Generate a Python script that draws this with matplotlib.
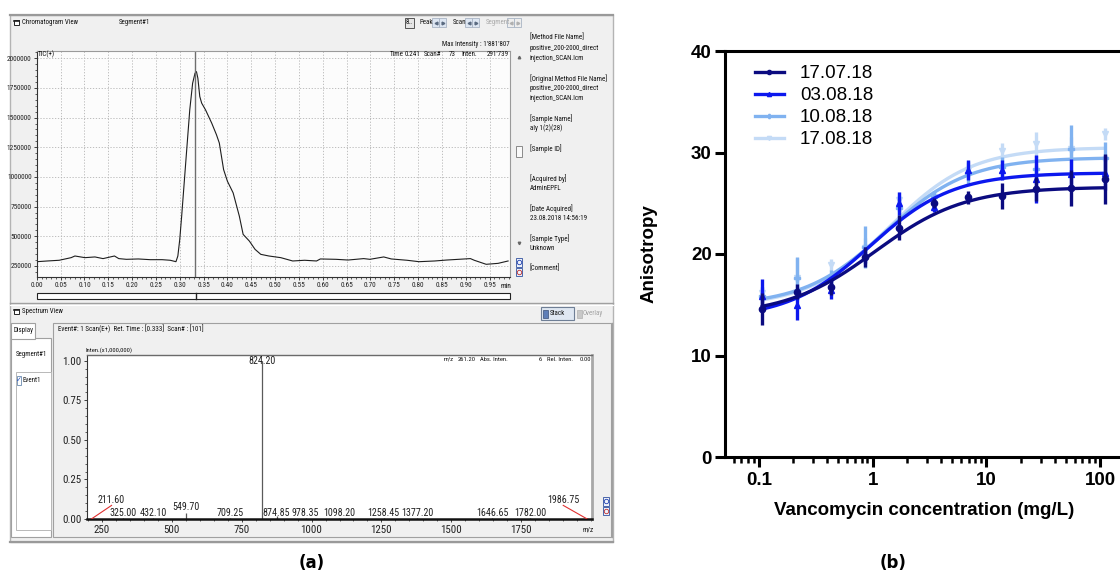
import numpy as np
import matplotlib
matplotlib.use("Agg")
import matplotlib.pyplot as plt
from matplotlib import font_manager
from matplotlib.patches import Rectangle
from matplotlib.lines import Line2D
from matplotlib.ticker import MultipleLocator, LogLocator, NullFormatter


def _find(fam, stretch='normal'):
    try:
        return font_manager.findfont(font_manager.FontProperties(family=fam, stretch=stretch),
                                     fallback_to_default=False)
    except Exception:
        return None


ARIAL = 'Liberation Sans' if _find('Liberation Sans') else 'DejaVu Sans'
UI = {'family': ARIAL}
UI_SCALE = 1.0
for _fam in ['Liberation Sans Narrow', 'Roboto Condensed', 'Open Sans Condensed', 'Arial Narrow']:
    if _find(_fam):
        UI = {'family': _fam}
        UI_SCALE = 1.2
        break
else:
    for _fam in ['DejaVu Sans', 'Roboto', 'Open Sans', 'Noto Sans']:
        _p = _find(_fam, 'condensed')
        if _p and 'ondensed' in _p:
            UI = {'family': _fam, 'stretch': 'condensed'}
            UI_SCALE = 1.15
            break

# ---------------- data: (a) chromatogram (TIC) ----------------
tic_time = [0.000, 0.022, 0.047, 0.072, 0.080, 0.101, 0.122, 0.139, 0.163, 0.172, 0.188, 0.213,
            0.238, 0.263, 0.280, 0.292, 0.296, 0.300, 0.304, 0.313, 0.321, 0.327, 0.332, 0.335,
            0.338, 0.342, 0.346, 0.354, 0.367, 0.377, 0.383, 0.392, 0.400, 0.412, 0.425, 0.433,
            0.446, 0.458, 0.470, 0.487, 0.512, 0.537, 0.562, 0.587, 0.595, 0.628, 0.653, 0.686,
            0.699, 0.728, 0.744, 0.777, 0.802, 0.835, 0.860, 0.885, 0.910, 0.918, 0.943, 0.968, 0.989]
tic_intensity = [286000, 292000, 298000, 320000, 334000, 320000, 326000, 312000, 334000, 312000,
                 306000, 309000, 303000, 303000, 298000, 286000, 334000, 474000, 670000, 1146000,
                 1566000, 1790000, 1874000, 1888000, 1832000, 1678000, 1622000, 1566000, 1454000,
                 1356000, 1286000, 1062000, 964000, 866000, 670000, 516000, 460000, 390000, 348000,
                 334000, 320000, 292000, 298000, 292000, 309000, 306000, 300000, 312000, 306000,
                 326000, 309000, 298000, 286000, 292000, 300000, 306000, 312000, 298000, 264000,
                 272000, 292000]
cursor_time = 0.333
chrom_xticks = [0.00, 0.05, 0.10, 0.15, 0.20, 0.25, 0.30, 0.35, 0.40, 0.45, 0.50,
                0.55, 0.60, 0.65, 0.70, 0.75, 0.80, 0.85, 0.90, 0.95]
chrom_yticks = [250000, 500000, 750000, 1000000, 1250000, 1500000, 1750000, 2000000]

info_lines = ["[Method File Name]", "positive_200-2000_direct", "injection_SCAN.lcm",
              "[Original Method File Name]", "positive_200-2000_direct", "injection_SCAN.lcm",
              "[Sample Name]", "aly 1(2)(28)", "[Sample ID]", "[Acquired by]", "AdminEPFL",
              "[Date Acquired]", "23.08.2018 14:56:19", "[Sample Type]", "Unknown", "[Comment]"]

# ---------------- data: (a) mass spectrum ----------------
peak_mz = [211.60, 325.00, 432.10, 549.70, 709.25, 824.20, 874.85, 978.35, 1098.20,
           1258.45, 1377.20, 1646.65, 1782.00, 1986.75]
peak_intensity = [0.006, 0.008, 0.008, 0.035, 0.008, 1.00, 0.02, 0.008, 0.008,
                  0.008, 0.008, 0.008, 0.008, 0.004]
spec_xticks = [250, 500, 750, 1000, 1250, 1500, 1750]
spec_yticks = [0.00, 0.25, 0.50, 0.75, 1.00]

# ---------------- data: (b) anisotropy vs vancomycin ----------------
conc = [0.107, 0.215, 0.43, 0.86, 1.72, 3.44, 6.88, 13.75, 27.5, 55.0, 110.0]
labels_b = ['17.07.18', '03.08.18', '10.08.18', '17.08.18']
aniso_170718 = [14.6, 16.3, 16.7, 19.7, 22.6, 25.0, 25.6, 25.7, 26.4, 26.5, 27.4]
err_170718 = [1.6, 0.7, 0.7, 1.0, 1.25, 0.5, 0.65, 1.3, 1.2, 1.8, 2.5]
aniso_030818 = [15.9, 15.0, 16.5, 19.9, 25.0, 24.6, 28.3, 28.3, 27.4, 27.9, 28.0]
err_030818 = [1.6, 1.5, 0.9, 0.8, 1.15, 0.5, 1.0, 1.0, 2.4, 1.5, 1.7]
aniso_100818 = [15.9, 17.6, 17.6, 20.7, 24.5, 25.6, 28.0, 28.6, 28.4, 30.3, 29.5]
err_100818 = [0.8, 2.1, 0.8, 2.1, 1.2, 0.6, 1.2, 1.0, 1.3, 2.4, 1.5]
aniso_170818 = [16.2, 17.6, 18.9, 20.6, 25.3, 25.6, 28.3, 30.1, 30.8, 30.3, 31.8]
err_170818 = [0.5, 2.0, 0.6, 1.0, 0.8, 0.6, 0.7, 0.8, 1.2, 1.2, 0.6]
# 4-parameter logistic fit parameters (bottom, top, EC50, hill)
fit_170718 = (13.9, 26.6, 1.05, 1.1)
fit_030818 = (13.6, 28.0, 0.95, 1.2)
fit_100818 = (14.9, 29.5, 1.30, 1.2)
fit_170818 = (14.8, 30.5, 1.40, 1.2)
b_yticks = [0, 10, 20, 30, 40]
b_xticks = [0.1, 1, 10, 100]
b_xticklabels = ['0.1', '1', '10', '100']

# ---------------- figure ----------------
W, H = 1120, 574
fig = plt.figure(figsize=(W / 100, H / 100), dpi=100)
fig.patch.set_facecolor('white')


def frect(x0, y0, x1, y1):
    return [x0 / W, 1 - y1 / H, (x1 - x0) / W, (y1 - y0) / H]


bg = fig.add_axes([0, 0, 1, 1], zorder=0)
fg = fig.add_axes([0, 0, 1, 1], zorder=20)
for a in (bg, fg):
    a.set_xlim(0, W)
    a.set_ylim(H, 0)
    a.axis('off')
fg.patch.set_alpha(0)

S = 4.1  # base UI font size


def box(ax, x0, y0, x1, y1, fc='none', ec='#a0a0a0', lw=0.8, z=1):
    ax.add_patch(Rectangle((x0, y0), x1 - x0, y1 - y0, facecolor=fc, edgecolor=ec, lw=lw, zorder=z))


def txt(ax, x, y, s, size=S, color='#111111', ha='left', va='center', **kw):
    ax.text(x, y, s, fontsize=size * UI_SCALE, color=color, ha=ha, va=va, **UI, **kw)


def ui_ticklabels(ax, size):
    for lab in ax.get_xticklabels() + ax.get_yticklabels():
        lab.set_family(UI['family'])
        if 'stretch' in UI:
            lab.set_stretch(UI['stretch'])
        lab.set_fontsize(size * UI_SCALE)


# window
box(bg, 10, 15, 613, 542, fc='#f0f0f0', ec='#b4b4b4', lw=1.0)
bg.plot([10, 613], [15, 15], color='#9a9a9a', lw=1.6)
bg.plot([10, 613], [542, 542], color='#9a9a9a', lw=1.6)

# chromatogram header
box(fg, 14, 19.5, 19, 25, fc='white', ec='#222222', lw=0.7)
fg.plot([14, 19], [21, 21], color='#222222', lw=1.2)
txt(fg, 22, 22.5, 'Chromatogram View')
txt(fg, 119, 22.5, 'Segment#1')
box(fg, 405, 17.5, 414, 28, fc='#e6e6e6', ec='#555555', lw=0.7)
txt(fg, 409.5, 23, '8..', ha='center')


def arrows(x0, grey=False):
    c = '#b0b0b0' if grey else '#5a6a80'
    fcol = '#eeeeee' if grey else '#dde6f2'
    box(fg, x0, 18, x0 + 7, 27, fc=fcol, ec='#a8b4c4', lw=0.6)
    box(fg, x0 + 7, 18, x0 + 14, 27, fc=fcol, ec='#a8b4c4', lw=0.6)
    fg.plot([x0 + 3.5], [22.5], marker='<', ms=2, color=c, ls='none')
    fg.plot([x0 + 10.5], [22.5], marker='>', ms=2, color=c, ls='none')


txt(fg, 419, 22.5, 'Peak')
arrows(432)
txt(fg, 453, 22.5, 'Scan')
arrows(465)
txt(fg, 486, 22.5, 'Segment', color='#a8a8a8')
arrows(507, grey=True)

txt(fg, 510, 44, "Max Intensity : 1'881'807", ha='right')

# chromatogram axes
ax1 = fig.add_axes(frect(36.8, 50.7, 510, 277), zorder=5)
ax1.set_facecolor('#fcfcfc')
ax1.plot(tic_time, tic_intensity, color='#1e1e1e', lw=0.8)
ax1.axvline(cursor_time, color='#6e6e6e', lw=1.0)
ax1.set_xlim(0, 0.993)
ax1.set_ylim(157000, 2064000)
ax1.set_xticks(chrom_xticks, labels=[f'{t:.2f}' for t in chrom_xticks])
ax1.set_yticks(chrom_yticks, labels=[str(v) for v in chrom_yticks])
ax1.xaxis.set_minor_locator(MultipleLocator(0.01))
ax1.yaxis.set_minor_locator(MultipleLocator(50000))
ax1.grid(True, which='major', ls=(0, (1.5, 2)), color='#b4b4b4', lw=0.6)
ax1.tick_params(which='major', length=2.5, width=0.6, pad=1.2, colors='#222222')
ax1.tick_params(which='minor', length=1.5, width=0.5, colors='#222222')
ui_ticklabels(ax1, 4.4)
for s in ('left', 'bottom'):
    ax1.spines[s].set_color('#333333')
    ax1.spines[s].set_linewidth(0.8)
for s in ('top', 'right'):
    ax1.spines[s].set_color('#9a9a9a')
    ax1.spines[s].set_linewidth(0.8)
txt(fg, 506, 286.2, 'min', size=4.4, ha='center')
txt(fg, 38, 54.5, 'TIC(+)', size=4.2)
txt(fg, 389.5, 54.5, 'Time', size=4.2)
txt(fg, 405, 54.5, '0.241', size=4.2)
txt(fg, 424, 54.5, 'Scan#', size=4.2)
txt(fg, 449, 54.5, '73', size=4.2)
txt(fg, 461, 54.5, 'Inten.', size=4.2)
txt(fg, 509, 54.5, "291'739", size=4.2, ha='right')

# bar below chromatogram
box(fg, 36.8, 293, 510, 299, fc='white', ec='#222222', lw=0.8)
fg.plot([195.7, 195.7], [293, 299], color='#222222', lw=1.0)

# scrollbar + zoom icons
fg.plot([519], [57], marker='^', ms=1.8, color='#666666', ls='none')
box(fg, 516, 146, 522, 157, fc='#fafafa', ec='#8a8a8a', lw=0.7)
fg.plot([519], [243], marker='v', ms=1.8, color='#666666', ls='none')


def zoom_icons(x, y):
    box(fg, x - 3, y, x + 3, y + 8.5, fc='#eef2fa', ec='#3050a0', lw=0.6)
    box(fg, x - 3, y + 9.5, x + 3, y + 18, fc='#eef2fa', ec='#3050a0', lw=0.6)
    fg.plot([x], [y + 4.2], marker='o', ms=3.2, mfc='none', mec='#2040b0', mew=0.6, ls='none')
    fg.plot([x], [y + 13.8], marker='o', ms=3.2, mfc='none', mec='#c03030', mew=0.6, ls='none')


zoom_icons(519, 258)

info_y = [37.7, 48.3, 58.3, 78.3, 88.3, 98.3, 118.3, 128.3, 148.3, 178.3, 188.3, 208.3, 218.3,
          238.3, 248.3, 268.3]
for s, yy in zip(info_lines, info_y):
    txt(fg, 530, yy, s, size=4.2)

# separator between views
bg.plot([10, 613], [303, 303], color='#a0a0a0', lw=1.0)
bg.plot([10, 613], [304.5, 304.5], color='white', lw=0.8)

# spectrum header
box(fg, 14, 308.5, 19, 314, fc='white', ec='#222222', lw=0.7)
fg.plot([14, 19], [310, 310], color='#222222', lw=1.2)
txt(fg, 22, 311.5, 'Spectrum View')
box(fg, 541, 307, 574, 320, fc='#dfe7f2', ec='#6f7f96', lw=0.8)
box(fg, 543, 309.5, 548, 317.5, fc='#5f7fb8', ec='#3a4f78', lw=0.5)
txt(fg, 549.5, 313.5, 'Stack')
box(fg, 577, 309.5, 582, 317.5, fc='#c8c8c8', ec='#b0b0b0', lw=0.5)
txt(fg, 583, 313.5, 'Overlay', color='#a0a0a0')

# spectrum panel
box(bg, 53, 323, 611, 537, fc='#f0f0f0', ec='#a0a0a0', lw=0.8)
box(bg, 11, 338, 51, 537, fc='white', ec='#a0a0a0', lw=0.8)
box(bg, 11, 323, 35, 338.5, fc='white', ec='#a0a0a0', lw=0.8)
box(bg, 15.5, 372, 51, 530, fc='white', ec='#b8b8b8', lw=0.7)
txt(fg, 13, 331, 'Display')
txt(fg, 16, 354.5, 'Segment#1')
box(fg, 16.5, 376, 21, 384.5, fc='white', ec='#6a8ab0', lw=0.6)
fg.text(18.8, 380, '\u2713', fontsize=5, color='#2050c0', ha='center', va='center', family='DejaVu Sans')
txt(fg, 22.5, 380, 'Event1')
txt(fg, 58.5, 329.5, 'Event#: 1 Scan(E+)  Ret. Time : [0.333]  Scan# : [101]', size=4.2)
txt(fg, 85, 350, 'Inten.(x1,000,000)', size=3.9)

# spectrum axes
ax2 = fig.add_axes(frect(87, 355, 592, 519), zorder=5)
ax2.set_facecolor('white')
ax2.vlines(peak_mz, 0, peak_intensity, color='#5a5a5a', lw=0.9)
ax2.set_xlim(196, 2004)
ax2.set_ylim(0, 1.036)
ax2.set_xticks(spec_xticks, labels=[str(v) for v in spec_xticks])
ax2.set_yticks(spec_yticks, labels=[f'{v:.2f}' for v in spec_yticks])
ax2.xaxis.set_minor_locator(MultipleLocator(50))
ax2.yaxis.set_minor_locator(MultipleLocator(0.05))
ax2.tick_params(which='major', length=2.5, width=0.6, pad=1.5, colors='#222222')
ax2.tick_params(which='minor', length=1.5, width=0.5, colors='#222222')
ui_ticklabels(ax2, 6.6)
ax2.spines['left'].set_color('#333333')
ax2.spines['left'].set_linewidth(0.8)
ax2.spines['bottom'].set_color('#111111')
ax2.spines['bottom'].set_linewidth(1.8)
ax2.spines['top'].set_color('#6a6a6a')
ax2.spines['top'].set_linewidth(1.0)
ax2.spines['right'].set_color('#a8a8a8')
ax2.spines['right'].set_linewidth(2.0)

# peak labels: (text x, text bottom y) in data units; callouts get a red leader line
label_layout = {211.60: (284, 0.086), 549.70: (549.70, 0.045), 824.20: (824.20, 0.965),
                1986.75: (1901, 0.086)}
for mz, inten in zip(peak_mz, peak_intensity):
    lx, ly = label_layout.get(mz, (mz, 0.006))
    ax2.text(lx, ly, f'{mz:.2f}', fontsize=6.0 * UI_SCALE, color='#222222',
             ha='center', va='bottom', zorder=6, **UI)
    if lx != mz:
        ax2.plot([mz, lx], [0, ly], color='#e03030', lw=0.8, zorder=6)
txt(fg, 588, 530, 'm/z', size=4.3, ha='center')
txt(fg, 443.6, 359.3, 'm/z', size=3.9)
txt(fg, 458, 359.3, '261.20', size=3.9)
txt(fg, 480, 359.3, 'Abs. Inten.', size=3.9)
txt(fg, 541.5, 359.3, '6', size=3.9, ha='right')
txt(fg, 547, 359.3, 'Rel. Inten.', size=3.9)
txt(fg, 591, 359.3, '0.00', size=3.9, ha='right')
zoom_icons(606, 497)
bg.plot([611.5, 611.5], [323, 537], color='#a0a0a0', lw=1.0)

fg.text(312, 563, '(a)', fontsize=12, fontweight='bold', ha='center', va='center', family='DejaVu Sans')

# ---------------- (b) ----------------
ax3 = fig.add_axes(frect(725, 51, 1124, 457), zorder=5)
ax3.set_xscale('log')
colors_b = ['#0b0b80', '#0c18ee', '#80b2f0', '#c4dbf6']
markers_b = ['o', '^', 'P', 'v']
series_b = [(aniso_170718, err_170718, fit_170718), (aniso_030818, err_030818, fit_030818),
            (aniso_100818, err_100818, fit_100818), (aniso_170818, err_170818, fit_170818)]
xfit = np.logspace(np.log10(conc[0]), np.log10(conc[-1]), 300)
for i in [3, 2, 1, 0]:
    vals, err, (bot, top, ec50, hill) = series_b[i]
    c = colors_b[i]
    z = 10 - i
    yfit = bot + (top - bot) / (1 + 10 ** ((np.log10(ec50) - np.log10(xfit)) * hill))
    ax3.errorbar(conc, vals, yerr=err, fmt='none', ecolor=c, elinewidth=2.4, capsize=0, zorder=z)
    ax3.plot(xfit, yfit, color=c, lw=2.4, zorder=z)
    ax3.plot(conc, vals, ls='none', marker=markers_b[i], ms=4.5, color=c, zorder=z)

ax3.set_xlim(0.0502, 162.5)
ax3.set_ylim(0, 40)
ax3.set_yticks(b_yticks)
ax3.set_xticks(b_xticks, labels=b_xticklabels)
ax3.xaxis.set_minor_locator(LogLocator(base=10, subs=np.arange(2, 10)))
ax3.xaxis.set_minor_formatter(NullFormatter())
for s in ax3.spines.values():
    s.set_linewidth(2.2)
    s.set_color('black')
ax3.tick_params(which='major', direction='out', length=7, width=2.2, labelsize=13.5, pad=2.5)
ax3.tick_params(axis='x', which='major', pad=4)
ax3.tick_params(which='minor', direction='out', length=4, width=1.8)
for lab in ax3.get_xticklabels() + ax3.get_yticklabels():
    lab.set_family(ARIAL)
    lab.set_fontweight('bold')
ax3.set_ylabel('Anisotropy', fontsize=13.5, fontweight='bold', family=ARIAL, labelpad=24)
ax3.set_xlabel('Vancomycin concentration (mg/L)', fontsize=13.5, fontweight='bold', family=ARIAL,
               labelpad=9)
handles = [Line2D([0], [0], color=colors_b[i], lw=2.4, marker=markers_b[i], ms=3)
           for i in range(4)]
ax3.legend(handles, labels_b, loc='upper left', bbox_to_anchor=(0.075, 0.965), frameon=False,
           prop={'family': ARIAL, 'size': 13.5}, handlelength=1.55, handletextpad=0.85,
           labelspacing=0.26, borderaxespad=0, borderpad=0)

fg.text(893, 563, '(b)', fontsize=12, fontweight='bold', ha='center', va='center', family='DejaVu Sans')

fig.savefig('out.png', dpi=100)
